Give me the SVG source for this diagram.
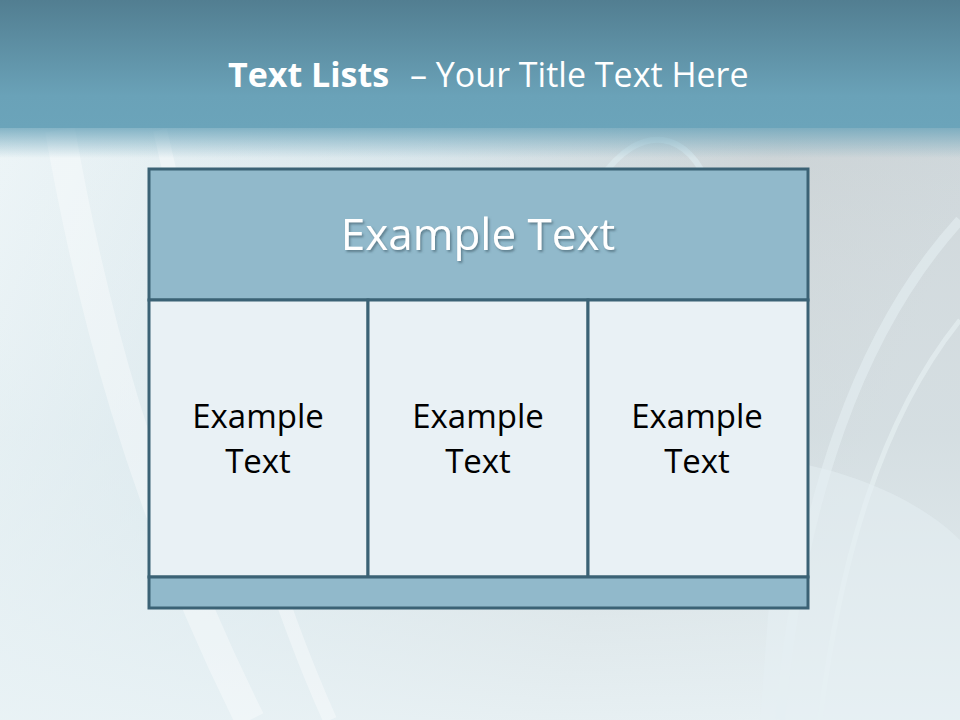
<svg xmlns="http://www.w3.org/2000/svg" width="960" height="720" viewBox="0 0 960 720">
<defs>
<linearGradient id="bg" x1="0" y1="0" x2="1" y2="0.3">
<stop offset="0" stop-color="#eef6f8"/>
<stop offset="0.45" stop-color="#d4e3e9"/>
<stop offset="0.8" stop-color="#c6ced1"/>
<stop offset="1" stop-color="#c9d2d6"/>
</linearGradient>
<linearGradient id="bgv" x1="0" y1="0" x2="0" y2="1">
<stop offset="0" stop-color="#ffffff" stop-opacity="0"/>
<stop offset="0.6" stop-color="#e6f0f3" stop-opacity="0.4"/>
<stop offset="1" stop-color="#eaf3f6" stop-opacity="0.9"/>
</linearGradient>
<linearGradient id="band" x1="0" y1="0" x2="0" y2="1">
<stop offset="0" stop-color="#527e91"/>
<stop offset="0.75" stop-color="#6aa2b8"/>
<stop offset="1" stop-color="#6ba4ba"/>
</linearGradient>
<linearGradient id="bandfade" x1="0" y1="0" x2="0" y2="1">
<stop offset="0" stop-color="#6ba4ba" stop-opacity="0.8"/>
<stop offset="1" stop-color="#6ba4ba" stop-opacity="0"/>
</linearGradient>
<filter id="sh" x="-10%" y="-10%" width="120%" height="130%">
<feDropShadow dx="1.5" dy="2" stdDeviation="1" flood-color="#3a5866" flood-opacity="0.6"/>
</filter>
<style>
.box{stroke:#3b6275;stroke-width:3}
.hdr{fill:#91b9cb}
.cell{fill:#e9f1f5}
.ct{font-family:"Open Sans","Liberation Sans",sans-serif;font-size:33px;fill:#000;text-anchor:middle}
.ttl{font-family:"Open Sans","Liberation Sans",sans-serif;fill:#fff}
</style>
</defs>
<rect width="960" height="720" fill="url(#bg)"/>
<rect width="960" height="720" fill="url(#bgv)"/>
<g fill="none" stroke="#ffffff" stroke-opacity="0.35">
<path d="M60 130 C90 300 140 500 250 720" stroke-width="30"/>
<path d="M160 130 C200 300 240 520 330 720" stroke-width="14"/>
<path d="M600 180 C640 120 690 130 710 190" stroke-width="6" stroke="#dbe9ee" stroke-opacity="0.7"/>
<path d="M960 220 C860 330 800 500 780 720" stroke-width="10" stroke="#e4eef2" stroke-opacity="0.6"/>
<path d="M960 320 C880 420 840 560 820 720" stroke-width="5" stroke="#e8f1f4" stroke-opacity="0.6"/>
</g>
<path d="M780 460 C850 470 920 500 960 540 L960 720 L760 720 Z" fill="#e6eff3" opacity="0.5"/>
<rect width="960" height="128" fill="url(#band)"/>
<rect y="128" width="960" height="30" fill="url(#bandfade)"/>
<text x="228" y="87" class="ttl" font-size="34" font-weight="bold">Text Lists</text>
<text x="410" y="87" class="ttl" font-size="34">– Your Title Text Here</text>
<g id="header">
<rect x="149" y="169" width="659" height="131" class="box hdr"/>
<text x="478" y="250" class="ttl" font-size="44" text-anchor="middle" filter="url(#sh)">Example Text</text>
</g>
<g id="cell1">
<rect x="149" y="300" width="219" height="277" class="box cell"/>
<text x="258" y="428" class="ct">Example</text>
<text x="258" y="473" class="ct">Text</text>
</g>
<g id="cell2">
<rect x="368" y="300" width="220" height="277" class="box cell"/>
<text x="478" y="428" class="ct">Example</text>
<text x="478" y="473" class="ct">Text</text>
</g>
<g id="cell3">
<rect x="588" y="300" width="220" height="277" class="box cell"/>
<text x="697" y="428" class="ct">Example</text>
<text x="697" y="473" class="ct">Text</text>
</g>
<g id="footer">
<rect x="149" y="577" width="659" height="31" class="box hdr"/>
</g>
<g id="connectors"/>
</svg>
